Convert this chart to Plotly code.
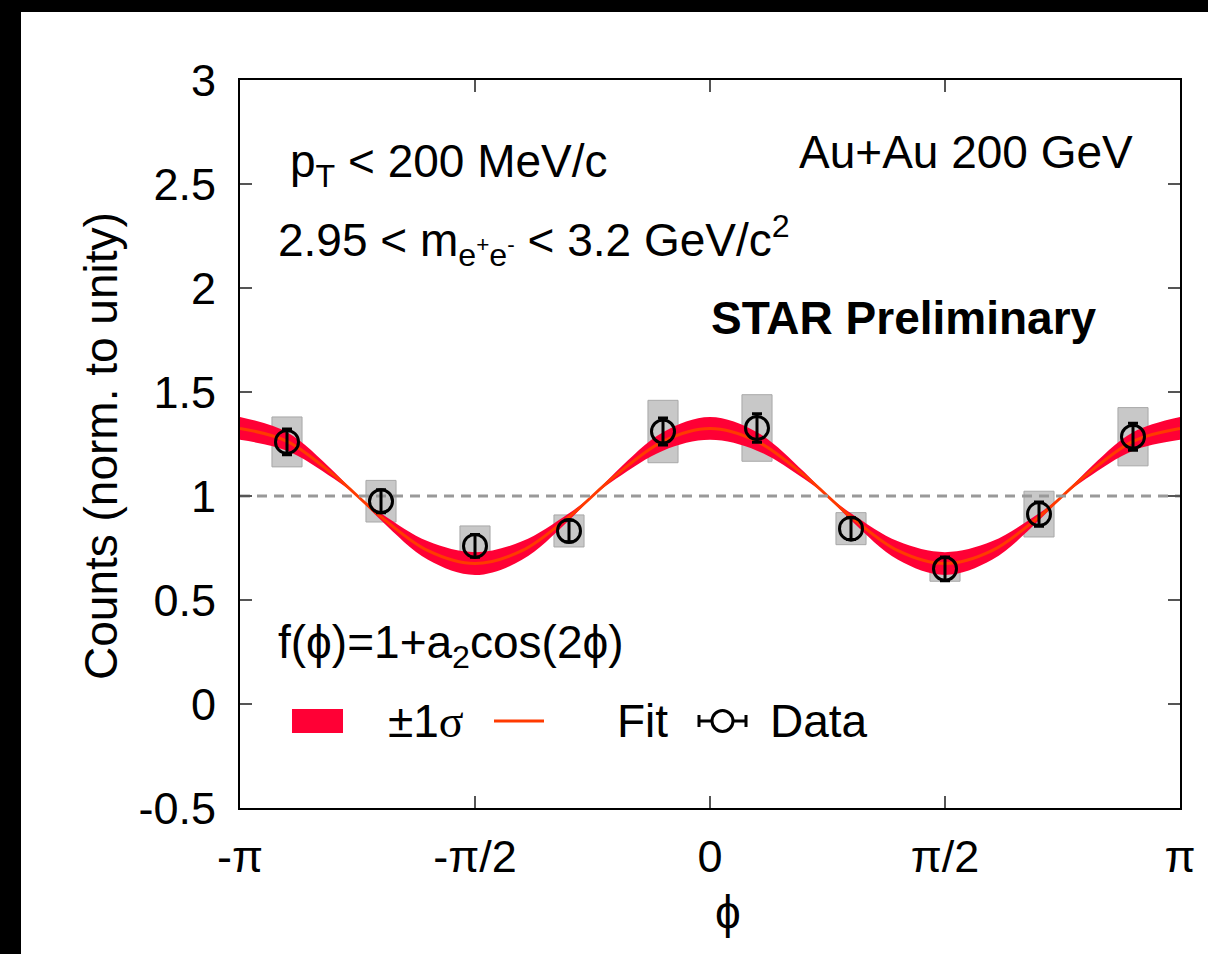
import plotly.graph_objects as go

# ---------------- data (phi in units of pi) ----------------
phi_pi = [-0.9, -0.7, -0.5, -0.3, -0.1, 0.1, 0.3, 0.5, 0.7, 0.9]
counts = [1.26, 0.975, 0.76, 0.832, 1.31, 1.327, 0.843, 0.65, 0.913, 1.285]
stat_err = [0.062, 0.055, 0.055, 0.052, 0.065, 0.068, 0.052, 0.057, 0.058, 0.065]
sys_err = [0.12, 0.10, 0.096, 0.077, 0.15, 0.16, 0.077, 0.06, 0.11, 0.14]
box_width = 0.064

fit_phi_pi = [-1.0, -0.9, -0.8, -0.7, -0.6, -0.5, -0.4, -0.3, -0.2, -0.1, 0.0,
              0.1, 0.2, 0.3, 0.4, 0.5, 0.6, 0.7, 0.8, 0.9, 1.0]
fit_y = [1.325, 1.263, 1.100, 0.900, 0.737, 0.675, 0.737, 0.900, 1.100, 1.263, 1.325,
         1.263, 1.100, 0.900, 0.737, 0.675, 0.737, 0.900, 1.100, 1.263, 1.325]
band_a = [1.380, 1.307, 1.117, 0.883, 0.693, 0.620, 0.693, 0.883, 1.117, 1.307, 1.380,
          1.307, 1.117, 0.883, 0.693, 0.620, 0.693, 0.883, 1.117, 1.307, 1.380]
band_b = [1.270, 1.218, 1.083, 0.917, 0.782, 0.730, 0.782, 0.917, 1.083, 1.218, 1.270,
          1.218, 1.083, 0.917, 0.782, 0.730, 0.782, 0.917, 1.083, 1.218, 1.270]
ref_x = [-1.0, 1.0]
ref_y = [1.0, 1.0]

x_tickvals = [-1.0, -0.5, 0.0, 0.5, 1.0]
x_ticktext = ["-\u03c0", "-\u03c0/2", "0", "\u03c0/2", "\u03c0"]
y_tickvals = [-0.5, 0, 0.5, 1, 1.5, 2, 2.5, 3]
y_ticktext = ["-0.5", "0", "0.5", "1", "1.5", "2", "2.5", "3"]

FONT = "Liberation Sans, Arial, Helvetica, sans-serif"
BAND = "#ff0035"
FITC = "#ff3a00"
BOX = "#c8c8c8"
PHI = "\u03d5"

fig = go.Figure()

fig.add_trace(go.Scatter(x=fit_phi_pi, y=band_a, mode="lines", line=dict(color=BAND, width=0, shape="spline"),
                         hoverinfo="skip", showlegend=False))
fig.add_trace(go.Scatter(x=fit_phi_pi, y=band_b, mode="lines", line=dict(color=BAND, width=0, shape="spline"),
                         fill="tonexty", fillcolor=BAND, hoverinfo="skip", showlegend=False))
fig.add_trace(go.Scatter(x=fit_phi_pi, y=fit_y, mode="lines", line=dict(color=FITC, width=3, shape="spline"),
                         showlegend=False))

fig.add_trace(go.Bar(x=phi_pi, y=[2 * s for s in sys_err], base=[c - s for c, s in zip(counts, sys_err)],
                     width=box_width, marker=dict(color=BOX, line=dict(color="#a8a8a8", width=1)),
                     showlegend=False))

fig.add_trace(go.Scatter(x=ref_x, y=ref_y, mode="lines",
                         line=dict(color="#999999", width=3, dash="10px,7px"), showlegend=False))

fig.add_trace(go.Scatter(x=phi_pi, y=counts, mode="markers",
                         marker=dict(symbol="circle-open", size=23, color="black", line=dict(width=3, color="black")),
                         error_y=dict(type="data", array=stat_err, color="black", thickness=3, width=5),
                         showlegend=False))

W, H = 1208, 954
L, R, T, B = 240, 28, 80, 146
PW, PH = W - L - R, H - T - B


def px(xp):
    return (xp - L) / PW


def py(yp):
    return (H - B - yp) / PH


shapes = [
    # black border strips of the original image
    dict(type="rect", xref="paper", yref="paper", x0=px(-5), x1=px(21), y0=py(960), y1=py(-5),
         fillcolor="black", line=dict(width=0), layer="above"),
    dict(type="rect", xref="paper", yref="paper", x0=px(-5), x1=px(1215), y0=py(12), y1=py(-5),
         fillcolor="black", line=dict(width=0), layer="above"),
    # legend symbols
    dict(type="rect", xref="paper", yref="paper", x0=px(292), x1=px(343), y0=py(733), y1=py(709),
         fillcolor=BAND, line=dict(width=0)),
    dict(type="line", xref="paper", yref="paper", x0=px(494), x1=px(544), y0=py(721), y1=py(721),
         line=dict(color=FITC, width=3)),
    dict(type="line", xref="paper", yref="paper", x0=px(699), x1=px(746), y0=py(721), y1=py(721),
         line=dict(color="black", width=3)),
    dict(type="line", xref="paper", yref="paper", x0=px(699), x1=px(699), y0=py(727), y1=py(715),
         line=dict(color="black", width=3)),
    dict(type="line", xref="paper", yref="paper", x0=px(746), x1=px(746), y0=py(727), y1=py(715),
         line=dict(color="black", width=3)),
    dict(type="circle", xref="paper", yref="paper", x0=px(712), x1=px(733), y0=py(731.5), y1=py(710.5),
         fillcolor="white", line=dict(color="black", width=3)),
]

tfont = dict(family=FONT, size=46, color="black")
annotations = [
    dict(text="Counts (norm. to unity)", x=px(101), y=py(446), xref="paper", yref="paper", textangle=-90,
         showarrow=False, xanchor="center", yanchor="middle", font=tfont),
    dict(text=PHI, x=px(728), y=py(912), xref="paper", yref="paper",
         showarrow=False, xanchor="center", yanchor="middle", font=tfont),
    dict(text="p<sub>T</sub> < 200 MeV/c", x=px(288), y=py(164), xref="paper", yref="paper",
         showarrow=False, xanchor="left", yanchor="middle", font=tfont),
    dict(text="Au+Au 200 GeV", x=px(1135), y=py(152), xref="paper", yref="paper",
         showarrow=False, xanchor="right", yanchor="middle", font=tfont),
    dict(text="2.95 < m<sub>e<sup>+</sup>e<sup>-</sup></sub> < 3.2 GeV/c<sup>2</sup>", x=px(276), y=py(240),
         xref="paper", yref="paper", showarrow=False, xanchor="left", yanchor="middle", font=tfont),
    dict(text="<b>STAR Preliminary</b>", x=px(904), y=py(318), xref="paper", yref="paper",
         showarrow=False, xanchor="center", yanchor="middle", font=dict(family=FONT, size=46, color="black")),
    dict(text="f(" + PHI + ")=1+a<sub>2</sub>cos(2" + PHI + ")", x=px(276), y=py(645), xref="paper", yref="paper",
         showarrow=False, xanchor="left", yanchor="middle", font=tfont),
    dict(text="\u00b11<span style='font-family:Liberation Serif'>\u03c3</span>", x=px(386), y=py(721),
         xref="paper", yref="paper", showarrow=False, xanchor="left", yanchor="middle", font=tfont),
    dict(text="Fit", x=px(615), y=py(721), xref="paper", yref="paper",
         showarrow=False, xanchor="left", yanchor="middle", font=tfont),
    dict(text="Data", x=px(768), y=py(721), xref="paper", yref="paper",
         showarrow=False, xanchor="left", yanchor="middle", font=tfont),
]

axis_common = dict(showgrid=False, zeroline=False, showline=True, linecolor="black", linewidth=2,
                   mirror="ticks", ticks="inside", ticklen=12, tickwidth=1.5, tickcolor="#555555",
                   tickfont=dict(family=FONT, size=45, color="black"))

fig.update_layout(
    width=W, height=H,
    margin=dict(l=L, r=R, t=T, b=B, pad=0),
    paper_bgcolor="white", plot_bgcolor="white",
    showlegend=False,
    font=dict(family=FONT, color="black"),
    xaxis=dict(range=[-1, 1], tickmode="array", tickvals=x_tickvals, ticktext=x_ticktext,
               ticklabelstandoff=8, **axis_common),
    yaxis=dict(range=[-0.5, 3], tickmode="array", tickvals=y_tickvals, ticktext=y_ticktext,
               ticklabelstandoff=13, **axis_common),
    shapes=shapes,
    annotations=annotations,
)

fig.write_html("out.html", config={"displayModeBar": False},
               post_script="document.body.style.margin='0';document.body.style.overflow='hidden';")
